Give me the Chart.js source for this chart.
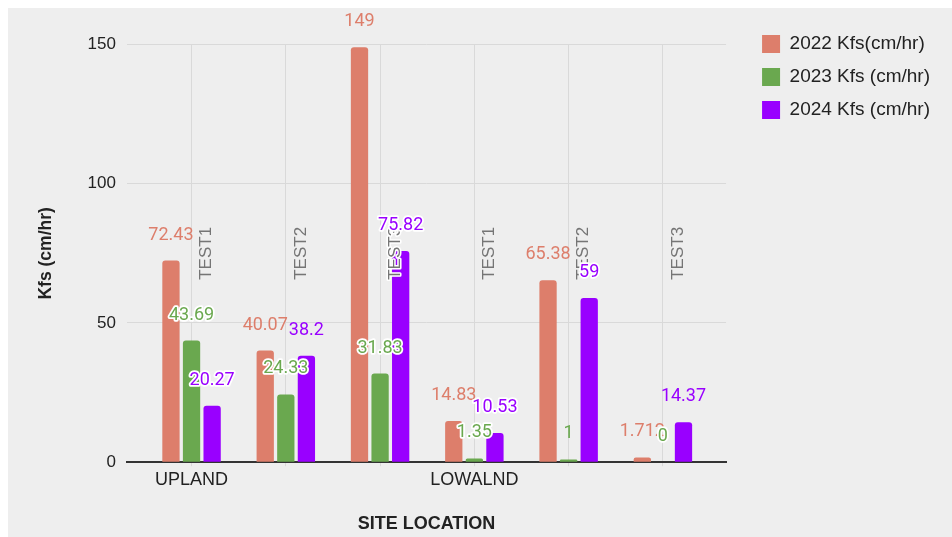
<!DOCTYPE html>
<html>
<head>
<meta charset="utf-8">
<script src="https://cdn.jsdelivr.net/npm/chart.js@4.4.1/dist/chart.umd.min.js"></script>
<style>
  html, body { margin: 0; padding: 0; background: #ffffff; }
  .panel { position: absolute; left: 8px; top: 8px; width: 944px; height: 529px; background: #eeeeee; }
  canvas { display: block; }
</style>
</head>
<body>
<div class="panel">
  <canvas id="chart" width="944" height="529"></canvas>
</div>
<script>
// chart data
const categories = ['TEST1', 'TEST2', 'TEST3', 'TEST1', 'TEST2', 'TEST3'];
const sites = ['UPLAND', '', '', 'LOWALND', '', ''];
const kfs2022 = [72.43, 40.07, 149, 14.83, 65.38, 1.712];
const kfs2023 = [43.69, 24.33, 31.83, 1.35, 1, 0];
const kfs2024 = [20.27, 38.2, 75.82, 10.53, 59, 14.37];
const seriesNames = ['2022 Kfs(cm/hr)', '2023 Kfs (cm/hr)', '2024 Kfs (cm/hr)'];
const yMax = 150;
const yStep = 50;

const colors = ['#dd7e6b', '#6aa84f', '#9900ff'];

Chart.defaults.font.family = "'Liberation Sans', Arial, sans-serif";
Chart.defaults.color = '#222222';

const toPoints = arr => arr.map((v, i) => ({ x: i, y: v }));

function overlaps(a, b) {
  return a.x1 < b.x2 && a.x2 > b.x1 && a.y1 < b.y2 && a.y2 > b.y1;
}

// category names inside the plot and value labels above the bars
const labelPlugin = {
  id: 'labelPlugin',
  afterLayout(chart) {
    // leave a gap between the plot and the legend
    chart.legend.left += 22;
    chart.legend.right += 22;
  },
  afterDatasetsDraw(chart) {
    const ctx = chart.ctx;
    const xs = chart.scales.x;
    const area = chart.chartArea;
    const bars = [];
    chart.data.datasets.forEach((ds, di) => {
      chart.getDatasetMeta(di).data.forEach(bar => {
        const half = bar.width / 2;
        bars.push({ x1: bar.x - half, x2: bar.x + half, y1: Math.min(bar.y, bar.base), y2: bar.base });
      });
    });
    const placed = [];

    ctx.save();
    ctx.font = "17px 'Liberation Sans', Arial, sans-serif";
    ctx.textAlign = 'center';
    ctx.textBaseline = 'middle';
    ctx.lineJoin = 'round';
    const cy = (area.top + area.bottom) / 2;
    categories.forEach((name, i) => {
      const cx = xs.getPixelForValue(i) + 15;
      const w = ctx.measureText(name).width;
      const box = { x1: cx - 6, x2: cx + 6, y1: cy - w / 2, y2: cy + w / 2 };
      ctx.save();
      ctx.translate(cx, cy);
      ctx.rotate(-Math.PI / 2);
      if (bars.some(b => overlaps(b, box))) {
        ctx.strokeStyle = '#ffffff';
        ctx.lineWidth = 3;
        ctx.strokeText(name, 0, 0);
      }
      ctx.fillStyle = '#757575';
      ctx.fillText(name, 0, 0);
      ctx.restore();
      placed.push(box);
    });

    ctx.font = "18px Roboto, 'Liberation Sans', sans-serif";
    ctx.textBaseline = 'alphabetic';
    chart.data.datasets.forEach((ds, di) => {
      chart.getDatasetMeta(di).data.forEach((bar, i) => {
        const text = String(ds.data[i].y);
        const w = ctx.measureText(text).width;
        const by = bar.y - 21;
        const box = { x1: bar.x - w / 2, x2: bar.x + w / 2, y1: by - 13, y2: by };
        if (bars.some(b => overlaps(b, box)) || placed.some(p => overlaps(p, box))) {
          ctx.strokeStyle = '#ffffff';
          ctx.lineWidth = 3.5;
          ctx.strokeText(text, bar.x, by);
        }
        ctx.fillStyle = ds.backgroundColor;
        ctx.fillText(text, bar.x, by);
        placed.push(box);
      });
    });
    ctx.restore();
  }
};

new Chart(document.getElementById('chart'), {
  type: 'bar',
  data: {
    datasets: [
      { label: seriesNames[0], data: toPoints(kfs2022), backgroundColor: colors[0] },
      { label: seriesNames[1], data: toPoints(kfs2023), backgroundColor: colors[1] },
      { label: seriesNames[2], data: toPoints(kfs2024), backgroundColor: colors[2] }
    ]
  },
  options: {
    responsive: false,
    animation: false,
    categoryPercentage: 0.655,
    barPercentage: 0.84,
    datasets: {
      bar: { borderWidth: 0, borderRadius: 3, borderSkipped: 'start' }
    },
    layout: { padding: { top: 12.5, left: 10, right: 34, bottom: 0 } },
    plugins: {
      tooltip: { enabled: false },
      title: { display: true, text: '', padding: 0, font: { size: 20, lineHeight: 1.2 } },
      legend: {
        position: 'right',
        align: 'start',
        labels: {
          boxWidth: 18,
          boxHeight: 18,
          padding: 14,
          color: '#222222',
          font: { size: 19 }
        }
      }
    },
    scales: {
      x: {
        type: 'linear',
        min: -0.685,
        max: 5.67,
        bounds: 'data',
        offset: false,
        afterBuildTicks: scale => {
          scale.ticks = categories.map((c, i) => ({ value: i }));
        },
        grid: { color: '#d9d9d9', offset: false, tickLength: 4 },
        border: { color: '#333333', width: 2 },
        ticks: {
          autoSkip: false,
          maxRotation: 0,
          padding: 3,
          color: '#222222',
          font: { size: 18 },
          callback: v => sites[v] || ''
        },
        title: {
          display: true,
          text: 'SITE LOCATION',
          color: '#222222',
          font: { size: 18, weight: 'bold' },
          padding: { top: 19.4, bottom: 2.2 }
        }
      },
      y: {
        min: 0,
        max: yMax,
        grid: { color: '#d9d9d9', drawTicks: false },
        border: { display: false },
        ticks: { stepSize: yStep, padding: 11, color: '#222222', font: { size: 17 } },
        title: {
          display: true,
          text: 'Kfs (cm/hr)',
          color: '#222222',
          font: { size: 17.5, weight: 'bold' },
          padding: { top: 18, bottom: 19.6 }
        }
      }
    }
  },
  plugins: [labelPlugin]
});
</script>
</body>
</html>
